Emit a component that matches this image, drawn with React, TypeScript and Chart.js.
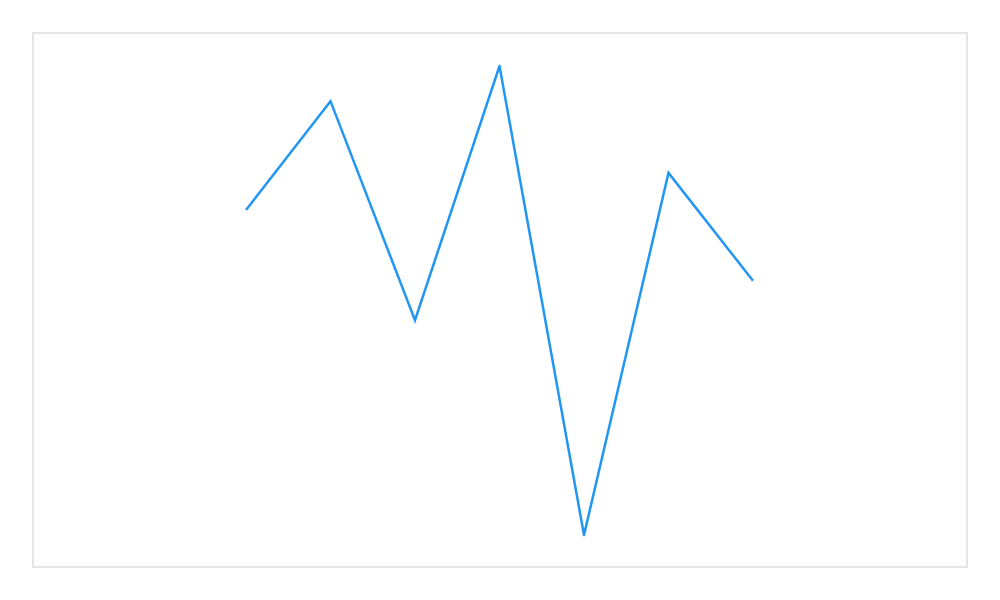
import React, { useEffect, useRef } from "react";
import { Chart, registerables } from "chart.js";

Chart.register(...registerables);

const categories = ["Jan", "Feb", "Mar", "Apr", "May", "Jun", "Jul"];
const seriesValues = [69.3, 92.5, 45.8, 100, 0, 77.2, 54.2];

const frameBorder = {
  id: "frameBorder",
  afterDraw(chart: any) {
    const { ctx, chartArea } = chart;
    const left = chartArea.left - 213;
    const right = chartArea.right + 214;
    const top = chartArea.top - 33;
    const bottom = chartArea.bottom + 32;
    ctx.save();
    ctx.strokeStyle = "#dddddd";
    ctx.lineWidth = 1.5;
    ctx.strokeRect(left, top, right - left, bottom - top);
    ctx.restore();
  },
};

export default function App() {
  const ref = useRef<HTMLCanvasElement | null>(null);
  useEffect(() => {
    if (!ref.current) return;
    const chart = new Chart(ref.current, {
      type: "line",
      data: {
        labels: categories,
        datasets: [
          {
            data: seriesValues,
            borderColor: "#2196f3",
            borderWidth: 2.5,
            pointRadius: 0,
            tension: 0,
            fill: false,
          },
        ],
      },
      options: {
        animation: false,
        responsive: true,
        maintainAspectRatio: false,
        layout: { padding: { left: 246, right: 247, top: 66, bottom: 65 } },
        plugins: { legend: { display: false }, tooltip: { enabled: false } },
        scales: {
          x: { display: false, offset: false },
          y: { display: false, bounds: "data" },
        },
      },
      plugins: [frameBorder],
    });
    return () => chart.destroy();
  }, []);
  return (
    <div style={{ position: "fixed", left: 0, top: 0, width: 1000, height: 600, background: "#fff" }}>
      <canvas ref={ref} />
    </div>
  );
}
